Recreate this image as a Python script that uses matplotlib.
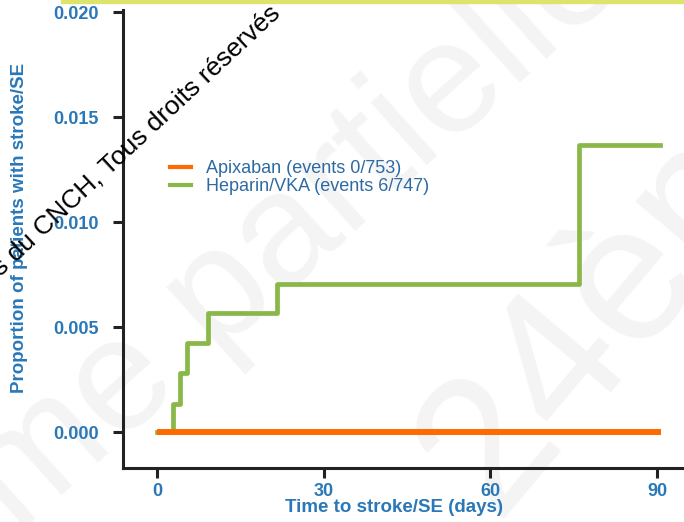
import numpy as np
import matplotlib.pyplot as plt
from matplotlib.lines import Line2D
from matplotlib.patches import Rectangle

# curves (days, cumulative proportion)
apixabanDays = [0, 90.8]
apixabanProp = [0.0, 0.0]
heparinDays = [0, 2.9, 4.2, 5.4, 9.2, 21.6, 76.0, 90.5]
heparinProp = [0.0, 0.00136, 0.00283, 0.00426, 0.00569, 0.00707, 0.01369, 0.01369]

seriesLabels = ['Apixaban (events 0/753)', 'Heparin/VKA (events 6/747)']
xTicks = [0, 30, 60, 90]
yTicks = [0.000, 0.005, 0.010, 0.015, 0.020]

orange = '#ff6a00'
green = '#8ab848'
blue = '#2a78b8'
darkBlue = '#2d6aa3'
axisColor = '#222222'

plt.rcParams['font.family'] = ['Liberation Sans', 'DejaVu Sans']

W, H = 684, 522


def px(x, y):
    # image pixel -> figure fraction
    return x / W, 1 - y / H


fig = plt.figure(figsize=(W / 100, H / 100), dpi=100)
ax = fig.add_axes([123 / W, 1 - 468 / H, (W - 123) / W, (468 - 10) / H])
ax.set_facecolor('none')

# faint background watermark and top bar of the slide
fig.text(*px(214, 302), 'même partielle', fontsize=115, color='#f4f4f4', rotation=42,
         rotation_mode='anchor', ha='center', va='center', zorder=-5)
fig.text(*px(647, 258), '24ème', fontsize=140, color='#f4f4f4', rotation=50,
         rotation_mode='anchor', ha='center', va='center', zorder=-5)
fig.add_artist(Rectangle((61 / W, 1 - 3 / H), 1 - 61 / W, 3 / H, transform=fig.transFigure,
                         color='#dce46c', zorder=-4))

ax.step(heparinDays, heparinProp, where='post', color=green, linewidth=3.4, zorder=2)
ax.plot(apixabanDays, apixabanProp, color=orange, linewidth=4.3, solid_capstyle='butt', zorder=3)

ax.set_xlim(-6.12, 94.85)
ax.set_ylim(-0.00169, 0.0201)
ax.set_xticks(xTicks)
ax.set_yticks(yTicks)
ax.set_yticklabels([f'{v:.3f}' for v in yTicks])

for side in ['top', 'right']:
    ax.spines[side].set_visible(False)
for side in ['left', 'bottom']:
    ax.spines[side].set_color(axisColor)
    ax.spines[side].set_linewidth(2.2)

ax.tick_params(length=7.5, width=2.2, color=axisColor, labelcolor=blue, labelsize=13)
ax.tick_params(axis='y', pad=10)
ax.tick_params(axis='x', pad=3.5)
for lab in ax.get_xticklabels() + ax.get_yticklabels():
    lab.set_fontweight('bold')

ax.set_xlabel('Time to stroke/SE (days)', fontsize=13.5, fontweight='bold', color=blue)
ax.xaxis.set_label_coords(0.483, -0.0677)
ax.set_ylabel('Proportion of patients with stroke/SE', fontsize=13.5, fontweight='bold', color=blue)
ax.yaxis.set_label_coords(-0.1693, 0.524)

handles = [Line2D([], [], color=orange, linewidth=3), Line2D([], [], color=green, linewidth=3)]
ax.legend(handles, seriesLabels, loc='upper left', bbox_to_anchor=px(170, 160),
          bbox_transform=fig.transFigure, frameon=False, fontsize=13, handlelength=1.15,
          handletextpad=0.85, labelspacing=0.05, borderpad=0, borderaxespad=0, labelcolor=darkBlue)

# copyright stamp over the plot
fig.text(*px(1, 276), 's du CNCH, Tous droits réservés', fontsize=19, color='black', rotation=43,
         rotation_mode='anchor', ha='left', va='baseline', zorder=10)

fig.savefig('out.png', dpi=100)
